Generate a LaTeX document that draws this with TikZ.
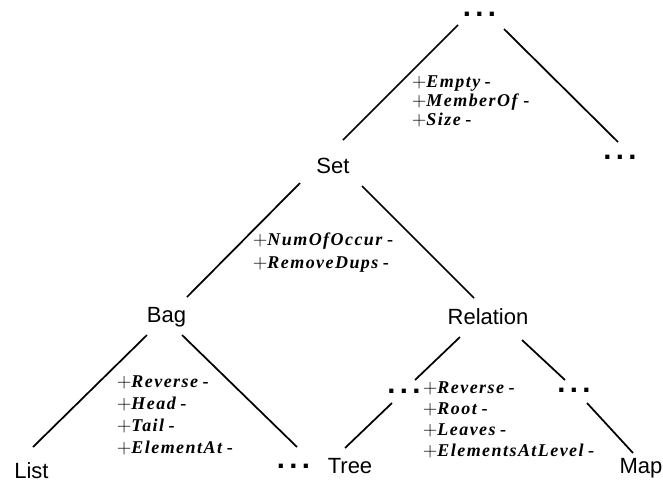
\documentclass[tikz,border=0pt]{standalone}
\usepackage{fontspec}
\setmainfont{Liberation Serif}
\setsansfont{Liberation Sans}
\newfontfamily\opfont[LetterSpace=8]{Liberation Serif}
\newcommand{\op}[1]{$+$\textbf{\textit{#1}}\,\textbf{-}}

\begin{document}
\begin{tikzpicture}[x=0.75pt, y=-0.75pt, line width=1.3pt,
  cls/.style = {font=\sffamily\fontsize{16.5}{18}\selectfont, inner sep=0pt, anchor=base},
  more/.style = {font=\sffamily\bfseries\fontsize{22}{24}\selectfont, inner sep=0pt},
  ops/.style = {font=\opfont\fontsize{13.5}{16.5}\selectfont, align=left, anchor=north west, inner sep=0pt}]
\useasboundingbox (0,0) rectangle (663,483);
% classes
\node[more] (top) at (479.5,14) {.\hspace{3.3pt}.\hspace{3.3pt}.};
\node[cls] (set) at (333,173) {Set};
\node[more] (rdots) at (620,157) {.\hspace{3.3pt}.\hspace{3.3pt}.};
\node[cls] (bag) at (166.5,322) {Bag};
\node[cls] (rel) at (488,324) {Relation};
\node[cls] (list) at (31.5,478) {List};
\node[more] (bdots) at (293.5,466) {.\hspace{3.3pt}.\hspace{3.3pt}.};
\node[cls] (tree) at (350,473) {Tree};
\node[more] (ldots) at (404,391) {.\hspace{3.3pt}.\hspace{3.3pt}.};
\node[more] (mdots) at (574,390) {.\hspace{3.3pt}.\hspace{3.3pt}.};
\node[cls] (map) at (641,473) {Map};
% edges
\draw ([shift={(-21.5,11)}]top.center) -- ([shift={(10,-33)}]set.base);
\draw ([shift={(24.5,15)}]top.center) -- ([shift={(-2,-15)}]rdots.center);
\draw ([shift={(-33,10)}]set.base) -- ([shift={(20.5,-25)}]bag.base);
\draw ([shift={(29,13)}]set.base) -- ([shift={(-14,-26)}]rel.base);
\draw ([shift={(-19.5,13)}]bag.base) -- ([shift={(1.5,-31)}]list.base);
\draw ([shift={(15.5,13)}]bag.base) -- ([shift={(3.5,-19)}]bdots.center);
\draw ([shift={(-28,13)}]rel.base) -- ([shift={(11,-11)}]ldots.center);
\draw ([shift={(-12,12)}]ldots.center) -- ([shift={(-5,-25)}]tree.base);
\draw ([shift={(34,16)}]rel.base) -- ([shift={(-9,-10)}]mdots.center);
\draw ([shift={(13,13)}]mdots.center) -- ([shift={(-8,-20)}]map.base);
% operations
\node[ops] (setops) at (411,75) {\op{Empty}\\[-2.25pt]\op{MemberOf}\\[-2.25pt]\op{Size}};
\node[ops] (bagops) at (252,232) {\op{NumOfOccur}\\[0.75pt]\op{RemoveDups}};
\node[ops] (listops) at (116,375) {\op{Reverse}\\\op{Head}\\\op{Tail}\\\op{ElementAt}};
\node[ops] (treeops) at (422,381) {\op{Reverse}\\[-0.75pt]\op{Root}\\[-0.75pt]\op{Leaves}\\[-0.75pt]\op{ElementsAtLevel}};
\end{tikzpicture}
\end{document}
